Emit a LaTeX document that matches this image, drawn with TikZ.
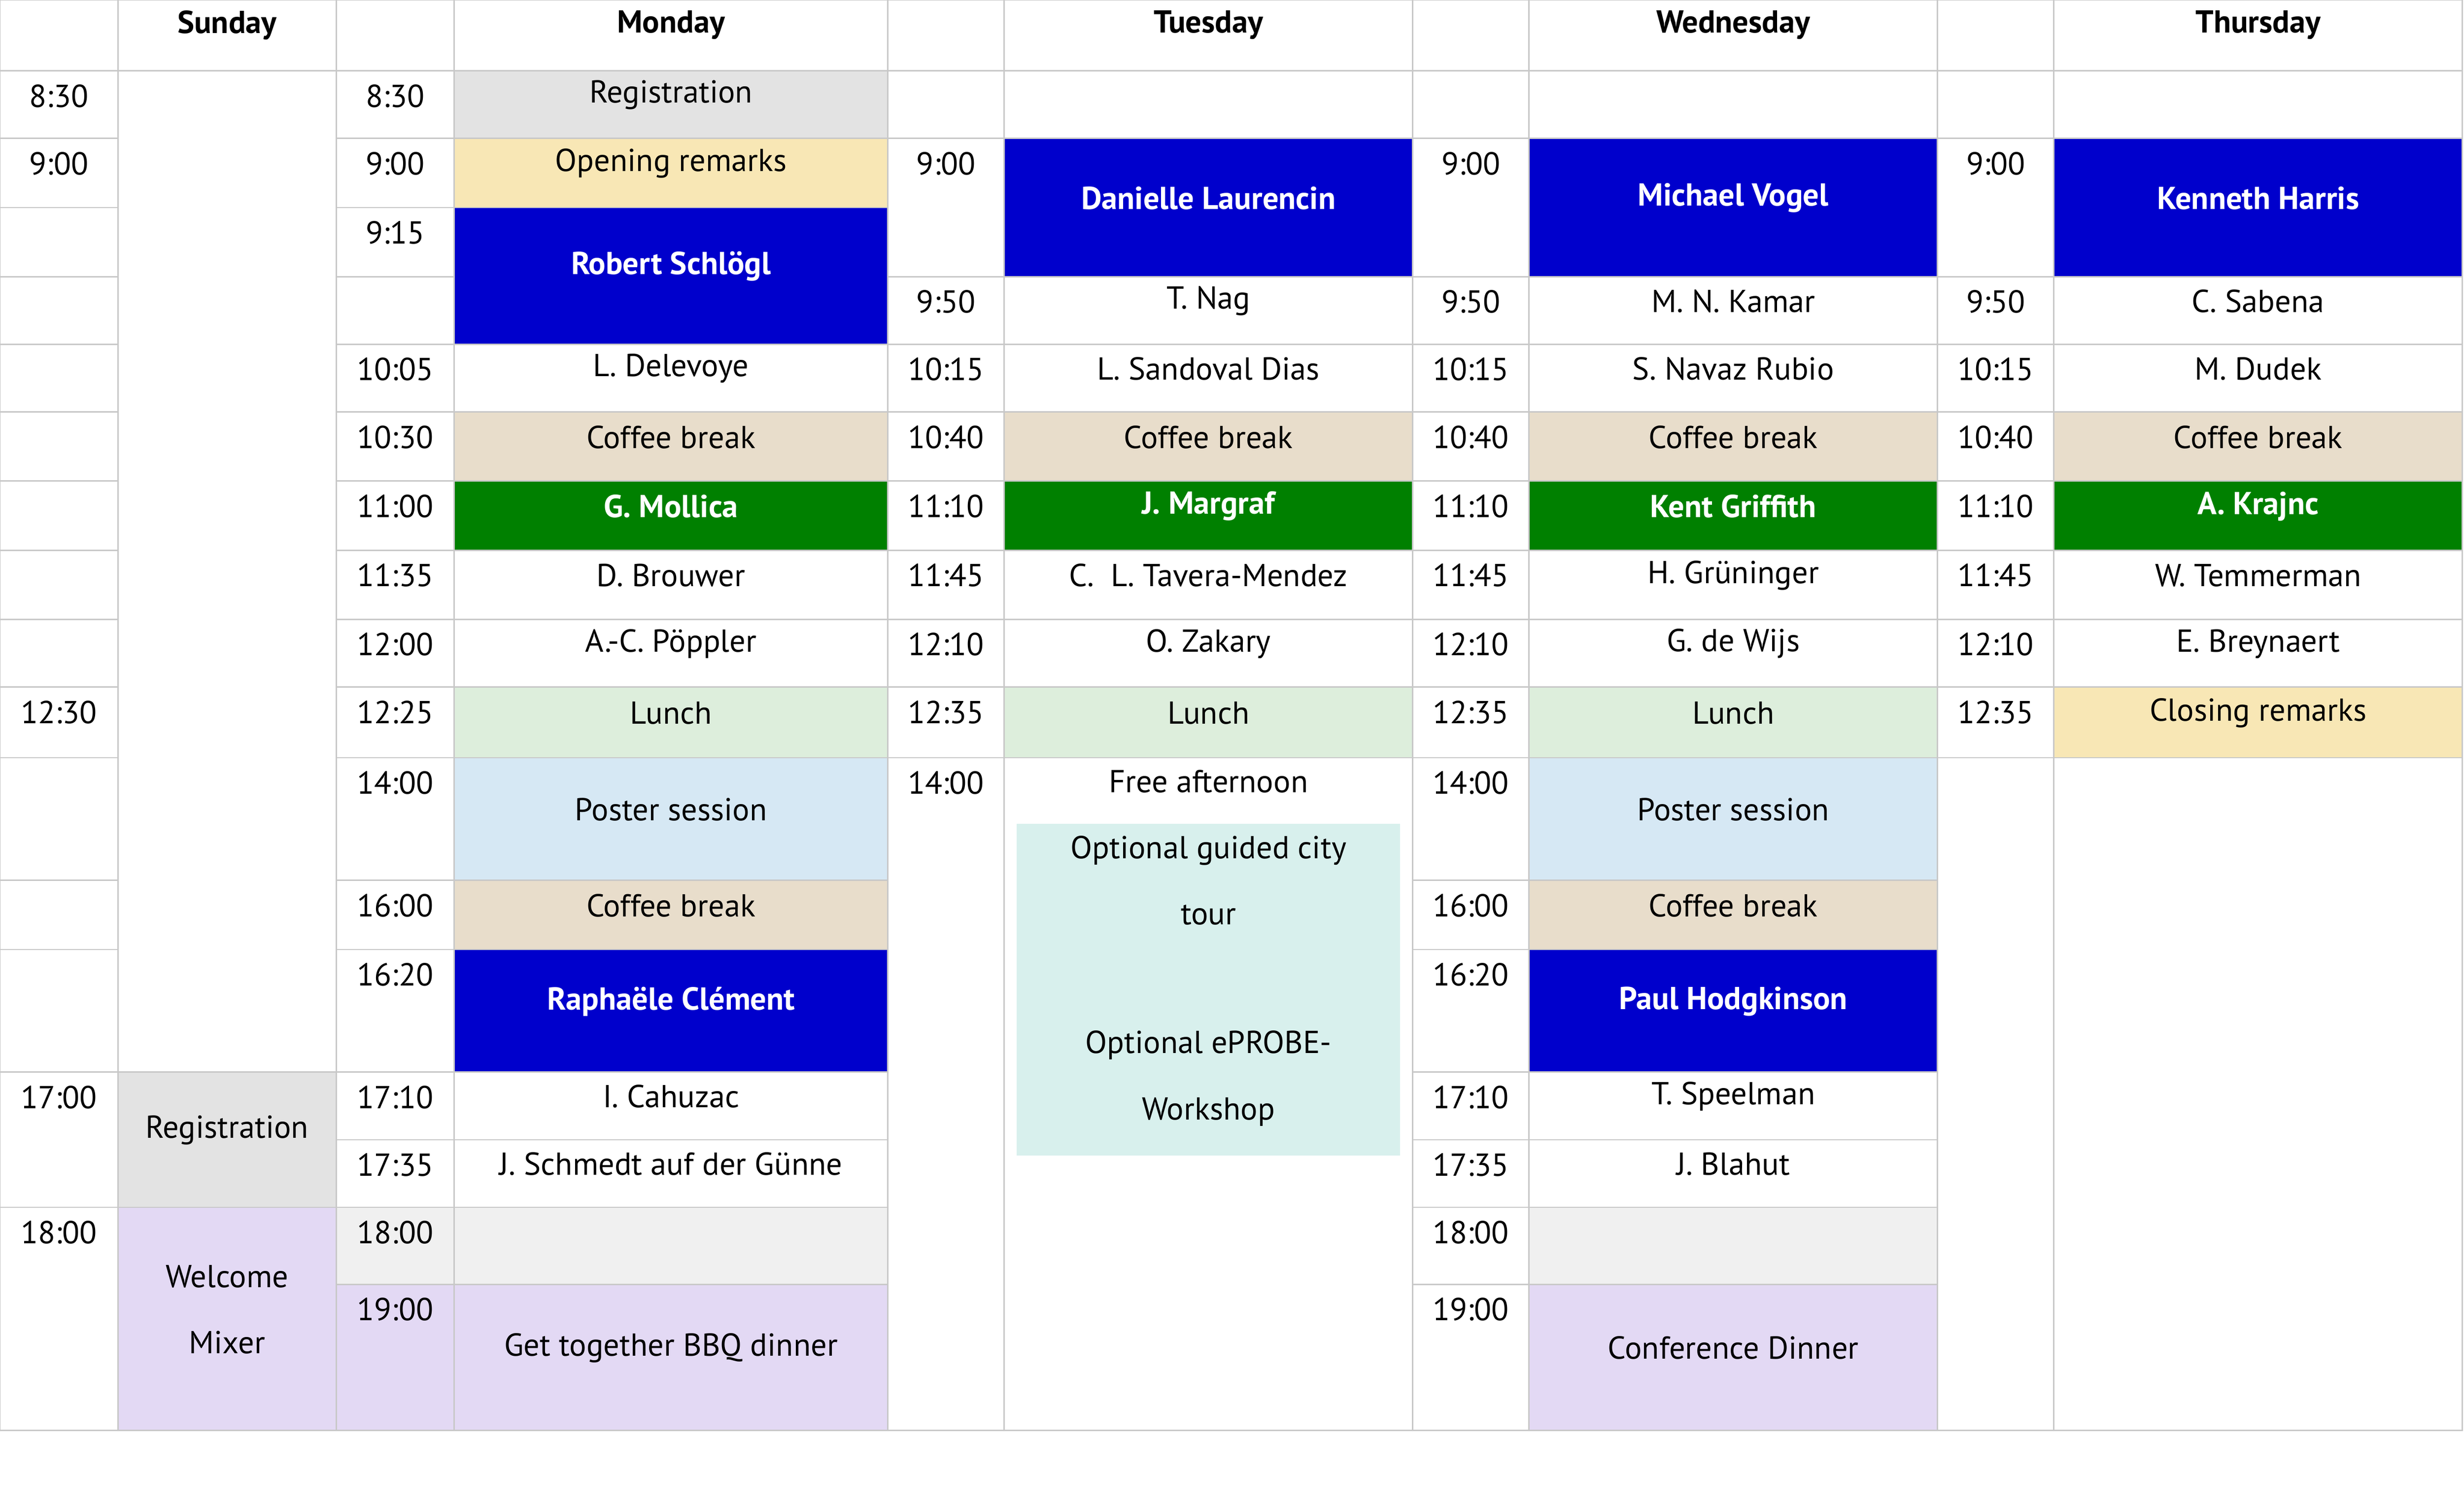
\documentclass[tikz,border=0pt]{standalone}
\usepackage{fontspec}
\setmainfont{PT Sans}
\definecolor{gridcol}{HTML}{C8C8C8}
\definecolor{regcol}{HTML}{E3E3E3}
\definecolor{opencol}{HTML}{F8E7B5}
\definecolor{coffcol}{HTML}{E8DDCB}
\definecolor{lunchcol}{HTML}{DDEEDC}
\definecolor{postercol}{HTML}{D6E8F4}
\definecolor{dinnercol}{HTML}{E3D9F4}
\definecolor{tourcol}{HTML}{D8F0ED}
\definecolor{emptycol}{HTML}{F0F0F0}
\definecolor{talkblue}{HTML}{0000CC}
\definecolor{talkgreen}{HTML}{008000}
% time cell: label at top; content cell: label in the middle
\newcommand\tcell[6]{%
  \filldraw[grid,fill=#5] (#1,#3) rectangle (#2,#4);
  \node[lbl] (t#1-#3) at ({(#1+#2)/2},#3+16) {#6};}
\newcommand\ccell[7][lbl]{%
  \filldraw[grid,fill=#6] (#2,#4) rectangle (#3,#5);
  \node[#1] (c#2-#4) at ({(#2+#3)/2},{(#4+#5)/2-6}) {#7};}
\begin{document}
\begin{tikzpicture}[x=0.02cm,y=-0.02cm,
  grid/.style={draw=gridcol,line width=0.5pt},
  lbl/.style={inner sep=0pt,font=\fontsize{11.5}{24}\selectfont,align=center},
  talk/.style={lbl,text=white,font=\fontsize{11.5}{24}\selectfont\bfseries}]
\useasboundingbox (0,0) rectangle (1568,961);

% header
\foreach \xa/\xb/\day in {0/75/,75/214/Sunday,214/289/,289/565/Monday,565/639/,639/899/Tuesday,
  899/973/,973/1233/Wednesday,1233/1307/,1307/1567/Thursday}
  {\filldraw[grid,fill=white] (\xa,0) rectangle (\xb,45);
   \node[lbl,font=\fontsize{11.5}{14}\selectfont\bfseries] (h\xa) at ({(\xa+\xb)/2},16) {\day};}

% first time column
\foreach \ya/\yb/\tm in {45/88/8:30,88/132/9:00,132/176/,176/219/,219/262/,262/306/,306/350/,
  350/394/,394/437/,437/482/12:30,482/560/,560/604/,604/682/,682/768/17:00,768/910/18:00}
  \tcell{0}{75}{\ya}{\yb}{white}{\tm};

% Sunday
\filldraw[grid,fill=white] (75,45) rectangle (214,682);
\ccell{75}{214}{682}{768}{regcol}{Registration}
\ccell{75}{214}{768}{910}{dinnercol}{Welcome\\Mixer}

% Monday
\foreach \ya/\yb/\fc/\tm in {45/88/white/8:30,88/132/white/9:00,132/176/white/9:15,176/219/white/,
  219/262/white/10:05,262/306/white/10:30,306/350/white/11:00,350/394/white/11:35,394/437/white/12:00,
  437/482/white/12:25,482/560/white/14:00,560/604/white/16:00,604/682/white/16:20,682/725/white/17:10,
  725/768/white/17:35,768/817/emptycol/18:00,817/910/dinnercol/19:00}
  \tcell{214}{289}{\ya}{\yb}{\fc}{\tm};
\foreach \ya/\yb/\fc/\tx in {45/88/regcol/Registration,88/132/opencol/Opening remarks,
  219/262/white/L. Delevoye,262/306/coffcol/Coffee break,350/394/white/D. Brouwer,
  394/437/white/A.-C. Pöppler,437/482/lunchcol/Lunch,482/560/postercol/Poster session,
  560/604/coffcol/Coffee break,682/725/white/I. Cahuzac,725/768/white/J. Schmedt auf der Günne,
  768/817/emptycol/,817/910/dinnercol/Get together BBQ dinner}
  \ccell{289}{565}{\ya}{\yb}{\fc}{\tx};
\ccell[talk]{289}{565}{132}{219}{talkblue}{Robert Schlögl}
\ccell[talk]{289}{565}{306}{350}{talkgreen}{G. Mollica}
\ccell[talk]{289}{565}{604}{682}{talkblue}{Raphaële Clément}

% Tuesday
\foreach \ya/\yb/\tm in {45/88/,88/176/9:00,176/219/9:50,219/262/10:15,262/306/10:40,306/350/11:10,
  350/394/11:45,394/437/12:10,437/482/12:35,482/910/14:00}
  \tcell{565}{639}{\ya}{\yb}{white}{\tm};
\foreach \ya/\yb/\fc/\tx in {45/88/white/,176/219/white/T. Nag,219/262/white/L. Sandoval Dias,
  262/306/coffcol/Coffee break,350/394/white/C.\ \ L. Tavera-Mendez,394/437/white/O. Zakary,
  437/482/lunchcol/Lunch}
  \ccell{639}{899}{\ya}{\yb}{\fc}{\tx};
\ccell[talk]{639}{899}{88}{176}{talkblue}{Danielle Laurencin}
\ccell[talk]{639}{899}{306}{350}{talkgreen}{J. Margraf}
\filldraw[grid,fill=white] (639,482) rectangle (899,910);
\node[lbl] (free) at (769,497) {Free afternoon};
\fill[tourcol] (647,524) rectangle (891,735);
\node[lbl] (tour) at (769,560) {Optional guided city\\tour};
\node[lbl] (eprobe) at (769,686) {Optional ePROBE-\\Workshop};

% Wednesday
\foreach \ya/\yb/\tm in {45/88/,88/176/9:00,176/219/9:50,219/262/10:15,262/306/10:40,306/350/11:10,
  350/394/11:45,394/437/12:10,437/482/12:35,482/560/14:00,560/604/16:00,604/682/16:20,
  682/725/17:10,725/768/17:35,768/817/18:00,817/910/19:00}
  \tcell{899}{973}{\ya}{\yb}{white}{\tm};
\foreach \ya/\yb/\fc/\tx in {45/88/white/,176/219/white/M. N. Kamar,219/262/white/S. Navaz Rubio,
  262/306/coffcol/Coffee break,350/394/white/H. Grüninger,394/437/white/G. de Wijs,
  437/482/lunchcol/Lunch,482/560/postercol/Poster session,560/604/coffcol/Coffee break,
  682/725/white/T. Speelman,725/768/white/J. Blahut,768/817/emptycol/,817/910/dinnercol/Conference Dinner}
  \ccell{973}{1233}{\ya}{\yb}{\fc}{\tx};
\ccell[talk]{973}{1233}{88}{176}{talkblue}{Michael Vogel}
\ccell[talk]{973}{1233}{306}{350}{talkgreen}{Kent Griffith}
\ccell[talk]{973}{1233}{604}{682}{talkblue}{Paul Hodgkinson}

% Thursday
\foreach \ya/\yb/\tm in {45/88/,88/176/9:00,176/219/9:50,219/262/10:15,262/306/10:40,306/350/11:10,
  350/394/11:45,394/437/12:10,437/482/12:35,482/910/}
  \tcell{1233}{1307}{\ya}{\yb}{white}{\tm};
\foreach \ya/\yb/\fc/\tx in {45/88/white/,176/219/white/C. Sabena,219/262/white/M. Dudek,
  262/306/coffcol/Coffee break,350/394/white/W. Temmerman,394/437/white/E. Breynaert,
  437/482/opencol/Closing remarks,482/910/white/}
  \ccell{1307}{1567}{\ya}{\yb}{\fc}{\tx};
\ccell[talk]{1307}{1567}{88}{176}{talkblue}{Kenneth Harris}
\ccell[talk]{1307}{1567}{306}{350}{talkgreen}{A. Krajnc}
\end{tikzpicture}
\end{document}
